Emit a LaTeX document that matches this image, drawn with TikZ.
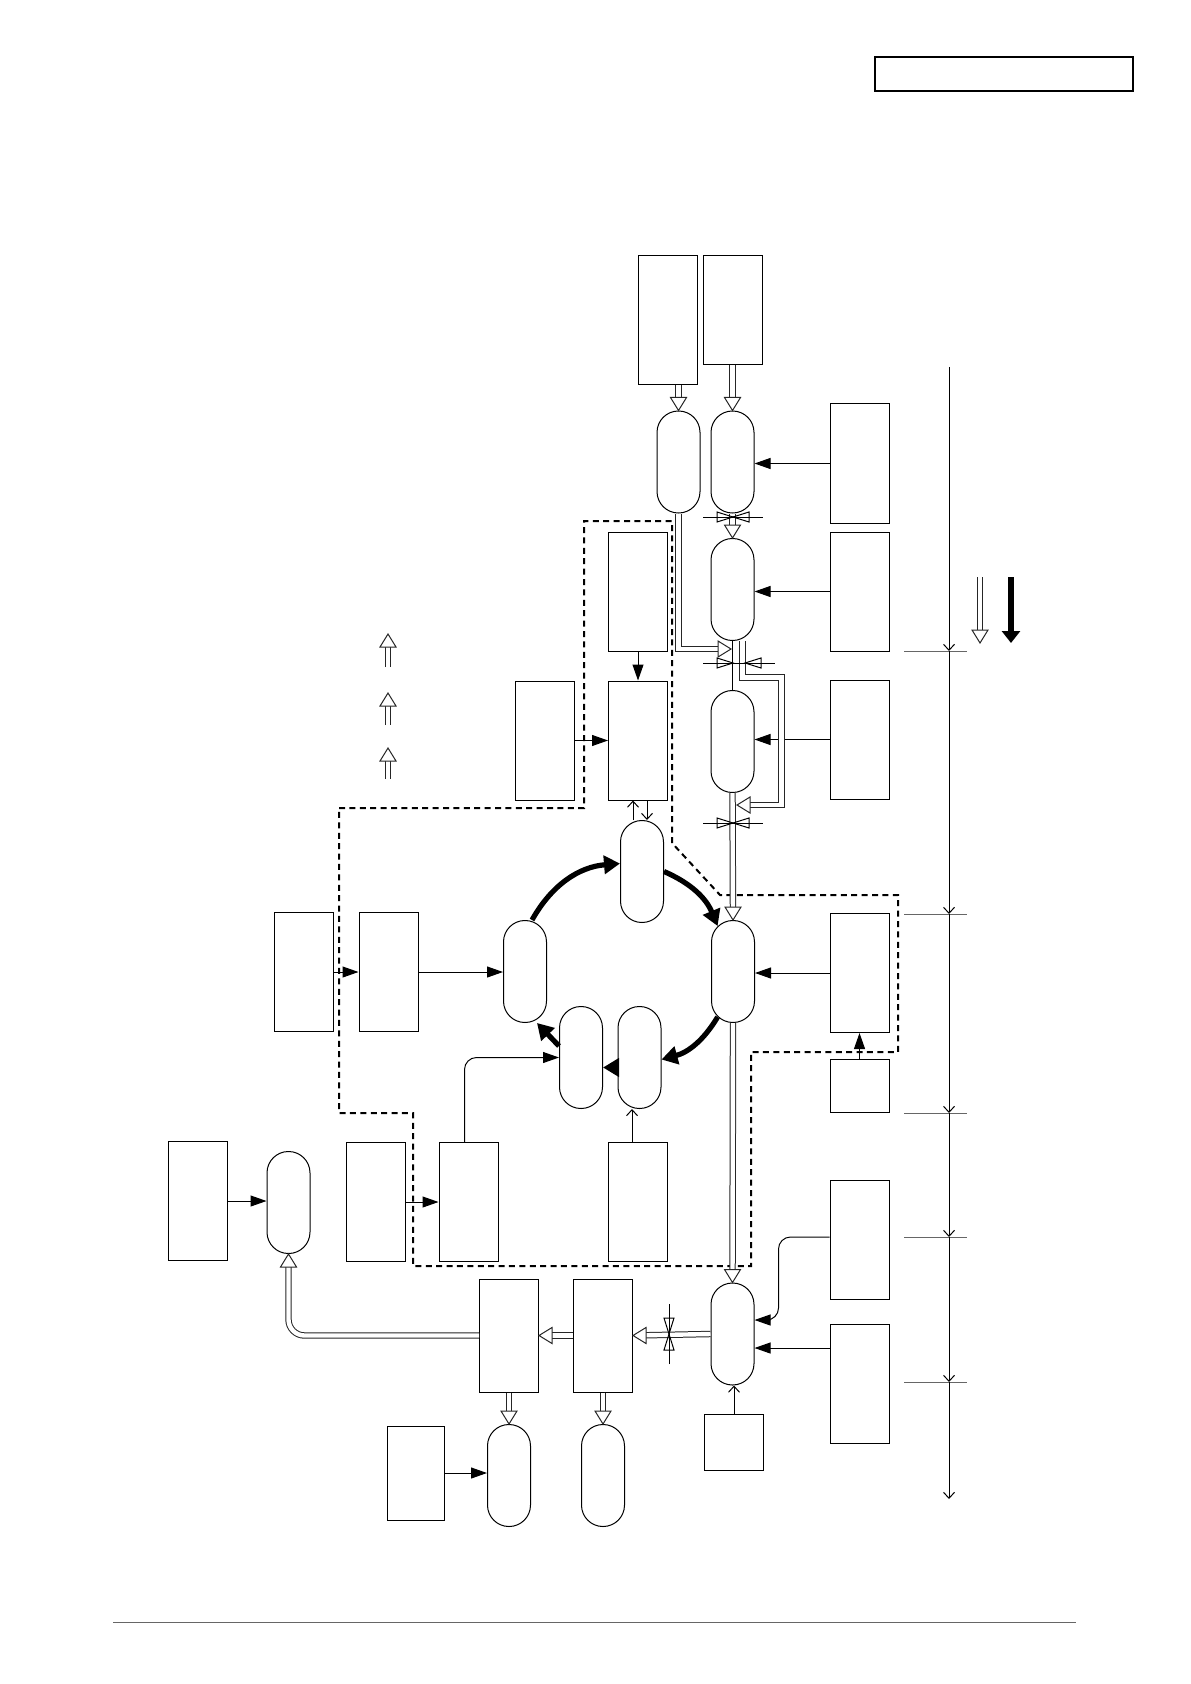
\documentclass[tikz,border=0pt]{standalone}
\usetikzlibrary{arrows.meta, positioning, calc}

\tikzset{
  box/.style={draw, line width=0.5pt, minimum width=29.5pt, minimum height=59.5pt, inner sep=0pt},
  vessel/.style={draw, line width=0.5pt, rounded corners=10.7pt, minimum width=21.5pt, minimum height=51pt, inner sep=0pt},
  fwd/.style={line width=0.5pt, -{Triangle[length=8pt,width=5.5pt]}},
  tin/.style={line width=0.5pt, -{Straight Barb[length=3pt,width=5.5pt]}},
  ring/.style={line width=2.6pt, -{Triangle[length=8pt,width=9pt]}},
  pipe/.style={draw=black!85, line width=0.5pt, double=white, double distance=2.2pt},
  pipeto/.style={pipe, shorten >=4pt},
  zone/.style={line width=1pt, dash pattern=on 3pt off 2.2pt},
  axtick/.style={draw=black!60, line width=0.5pt},
  pics/hhead/.style={code={
    \draw[draw=black!85, line width=0.5pt, fill=white] (0,0) -- (-6.5pt,4pt) -- (-6.5pt,-4pt) -- cycle;}},
  pics/valve/.style={code={
    \draw[line width=0.4pt] (-#1-15pt,0) -- (#1+15pt,0);
    \draw[line width=0.5pt] (-#1,0) -- (-#1-8pt,2.5pt) -- (-#1-8pt,-2.5pt) -- cycle;
    \draw[line width=0.5pt] (#1,0) -- (#1+8pt,2.5pt) -- (#1+8pt,-2.5pt) -- cycle;}},
}

\begin{document}
\begin{tikzpicture}[x=0.5pt, y=-0.5pt]
  \useasboundingbox (0,0) rectangle (1190,1684);

  % Header frame and footer rule
  \node[draw, line width=0.9pt, minimum width=129pt, minimum height=17pt, inner sep=0pt] (frame) at (1004,74) {};
  \draw[draw=black!60, line width=0.5pt] (113,1622) -- (1076,1622);

  % Feed boxes and first vessels
  \node[box, minimum height=64.5pt] (feedA) at (667.5,320.5) {};
  \node[box, minimum height=54.5pt] (feedB) at (732.5,310.5) {};
  \node[vessel] (vesA) at (678.5,462) {};
  \node[vessel] (vesB) at (732.5,462) {};
  \node[vessel] (vesC) at (732.5,589.5) {};
  \node[vessel] (vesD) at (732.5,741.5) {};
  \node[vessel] (vesE) at (733,971.5) {};
  \node[vessel] (vesF) at (732.5,1334) {};

  % Control boxes on the right
  \node[box] (ctlA) at (859.5,463.5) {};
  \node[box] (ctlB) at (859.5,591.5) {};
  \node[box] (ctlC) at (859.5,739.5) {};
  \node[box] (ctlD) at (859.5,973) {};
  \node[box, minimum height=26.5pt] (ctlE) at (859.5,1085.5) {};
  \node[box] (ctlF) at (859.5,1240) {};
  \node[box] (ctlG) at (859.5,1383.5) {};
  \node[box, minimum height=28pt] (ctlS) at (734,1442) {};

  % Upper left of dashed zone
  \node[box] (supA) at (638,592) {};
  \node[box] (supB) at (638,740.5) {};
  \node[box] (supC) at (545,740.5) {};

  % Ring
  \node[vessel] (ringT) at (642,871.5) {};
  \node[vessel] (ringL) at (525,971.5) {};
  \node[vessel] (ringM) at (581,1057.5) {};
  \node[vessel] (ringR) at (639.5,1057.5) {};
  \node[box] (inA) at (303.5,972) {};
  \node[box] (inB) at (388.5,972) {};
  \node[box] (subA) at (375.5,1202) {};
  \node[box] (subB) at (468.5,1202) {};
  \node[box] (subC) at (638,1202) {};

  % Lower left part
  \node[box] (extA) at (197.5,1201) {};
  \node[vessel] (extV) at (288.5,1202.5) {};
  \node[box, minimum height=56.5pt] (outA) at (509,1335.5) {};
  \node[box, minimum height=56.5pt] (outB) at (603,1335.5) {};
  \node[vessel] (endA) at (509,1475.5) {};
  \node[vessel] (endB) at (603,1475.5) {};
  \node[box, minimum width=28.5pt, minimum height=47pt] (endIn) at (415.5,1473) {};

  % Dashed zone
  \draw[zone] (339,808) -- (584,808) -- (584,521) -- (672,521) -- (672,843) -- (720,895)
     -- (898,895) -- (898,1052) -- (751,1052) -- (751,1266) -- (413,1266) -- (413,1113) -- (339,1113) -- cycle;

  % Filled arrows
  \draw[fwd] (ctlA.west) -- (ctlA.west -| vesB.east);
  \draw[fwd] (ctlB.west) -- (ctlB.west -| vesC.east);
  \draw[fwd] (ctlC.west) -- (ctlC.west -| vesD.east);
  \draw[fwd] (ctlD.west) -- (ctlD.west -| vesE.east);
  \draw[fwd] (ctlE.north) -- (ctlD.south);
  \draw[fwd, rounded corners=6pt] ([yshift=1.5pt]ctlF.west) -- ++(-51,0) |- ([yshift=7pt]vesF.east);
  \draw[fwd] ([yshift=-7pt]vesF.east -| ctlG.west) -- ([yshift=-7pt]vesF.east);
  \draw[fwd] (supA.south) -- (supB.north);
  \draw[fwd] (supC.east) -- (supB.west);
  \draw[fwd] (inA.east) -- (inB.west);
  \draw[fwd] (inB.east) -- (inB.east -| ringL.west);
  \draw[fwd] (extA.east) -- (extA.east -| extV.west);
  \draw[fwd] (subA.east) -- (subB.west);
  \draw[fwd, rounded corners=6pt] ([xshift=-2pt]subB.north) |- (ringM.west);
  \draw[fwd] (endIn.east) -- (endIn.east -| endA.west);

  % Thin open arrows
  \draw[tin] (ctlS.north) -- (ctlS.north |- vesF.south);
  \draw[tin] ([xshift=-3pt]subC.north) -- ([xshift=-3pt]subC.north |- ringR.south);
  \draw[tin] ([xshift=-2.5pt]supB.south |- ringT.north) -- ([xshift=-2.5pt]supB.south);
  \draw[tin] ([xshift=4.5pt]supB.south) -- ([xshift=4.5pt]supB.south |- ringT.north);

  % Ring arrows
  \draw[ring] ([xshift=3.5pt]ringL.north) to[bend left=28] ([yshift=4pt]ringT.west);
  \draw[ring] (ringT.east) to[bend left=22] ([xshift=3.3pt,yshift=-3pt]vesE.north west);
  \draw[ring] ([xshift=3.3pt,yshift=3pt]vesE.south west) to[bend left=22] ([yshift=-1pt]ringR.east);
  \draw[ring] ([yshift=-5pt]ringR.west) -- ([yshift=-5pt]ringM.east);
  \draw[ring] ([yshift=-20pt]ringM.north west) -- ([xshift=6pt]ringL.south);

  % Pipes
  \coordinate (joinA) at (731,649);
  \coordinate (joinB) at (737,805);
  \draw[pipeto] (feedA.south -| vesA.north) -- (vesA.north);
  \pic[rotate=-90] at (vesA.north) {hhead};
  \draw[pipeto] (feedB.south) -- (vesB.north);
  \pic[rotate=-90] at (vesB.north) {hhead};
  \draw[pipeto] (vesB.south) -- (vesC.north);
  \pic[rotate=-90] at (vesC.north) {hhead};
  \draw[line width=0.5pt] (vesC.south) -- (vesD.north);
  \draw[pipeto] (vesA.south) |- (joinA);
  \pic at (joinA) {hhead};
  \draw[pipeto] ([xshift=5pt]vesC.south) |- (781.5,677.5) |- (joinB);
  \pic[rotate=180] at (joinB) {hhead};
  \draw[pipeto] (vesD.south) -- (vesE.north);
  \pic[rotate=-90] at (vesE.north) {hhead};
  \draw[pipeto] (vesE.south) -- (vesF.north);
  \pic[rotate=-90] at (vesF.north) {hhead};
  \draw[pipeto] (vesF.west) -- (outB.east);
  \pic[rotate=180] at (outB.east) {hhead};
  \draw[pipeto] (outB.west) -- (outA.east);
  \pic[rotate=180] at (outA.east) {hhead};
  \draw[pipeto] (outA.south) -- (endA.north);
  \pic[rotate=-90] at (endA.north) {hhead};
  \draw[pipeto] (outB.south) -- (endB.north);
  \pic[rotate=-90] at (endB.north) {hhead};
  \draw[pipeto, rounded corners=8pt] (outA.west) -| (extV.south);
  \pic[rotate=90] at (extV.south) {hhead};

  % Valves
  \pic at (733,517) {valve=0pt};
  \pic at (739,663) {valve=3pt};
  \pic at (733,823) {valve=0pt};
  \pic[rotate=90] at (669,1334) {valve=0pt};

  % Legend arrows
  \draw[pipeto] (388,667) -- (388,634);
  \pic[rotate=90] at (388,634) {hhead};
  \draw[pipeto] (388,725) -- (388,693);
  \pic[rotate=90] at (388,693) {hhead};
  \draw[pipeto] (388,779) -- (388,748);
  \pic[rotate=90] at (388,748) {hhead};
  \draw[pipeto] (980,577) -- (980,643);
  \pic[rotate=-90] at (980,643) {hhead};
  \draw[line width=3pt, -{Triangle[length=6pt,width=9pt]}] (1011,577) -- (1011,643);

  % Time axis
  \draw[axtick] (904,651) -- (967,651);
  \draw[axtick] (904,914) -- (967,914);
  \draw[axtick] (904,1113) -- (967,1113);
  \draw[axtick] (904,1237) -- (967,1237);
  \draw[axtick] (904,1382) -- (967,1382);
  \draw[tin] (949,367) -- (949,651);
  \draw[tin] (949,651) -- (949,914);
  \draw[tin] (949,914) -- (949,1113);
  \draw[tin] (949,1113) -- (949,1237);
  \draw[tin] (949,1237) -- (949,1382);
  \draw[tin] (949,1382) -- (949,1499);
\end{tikzpicture}
\end{document}
